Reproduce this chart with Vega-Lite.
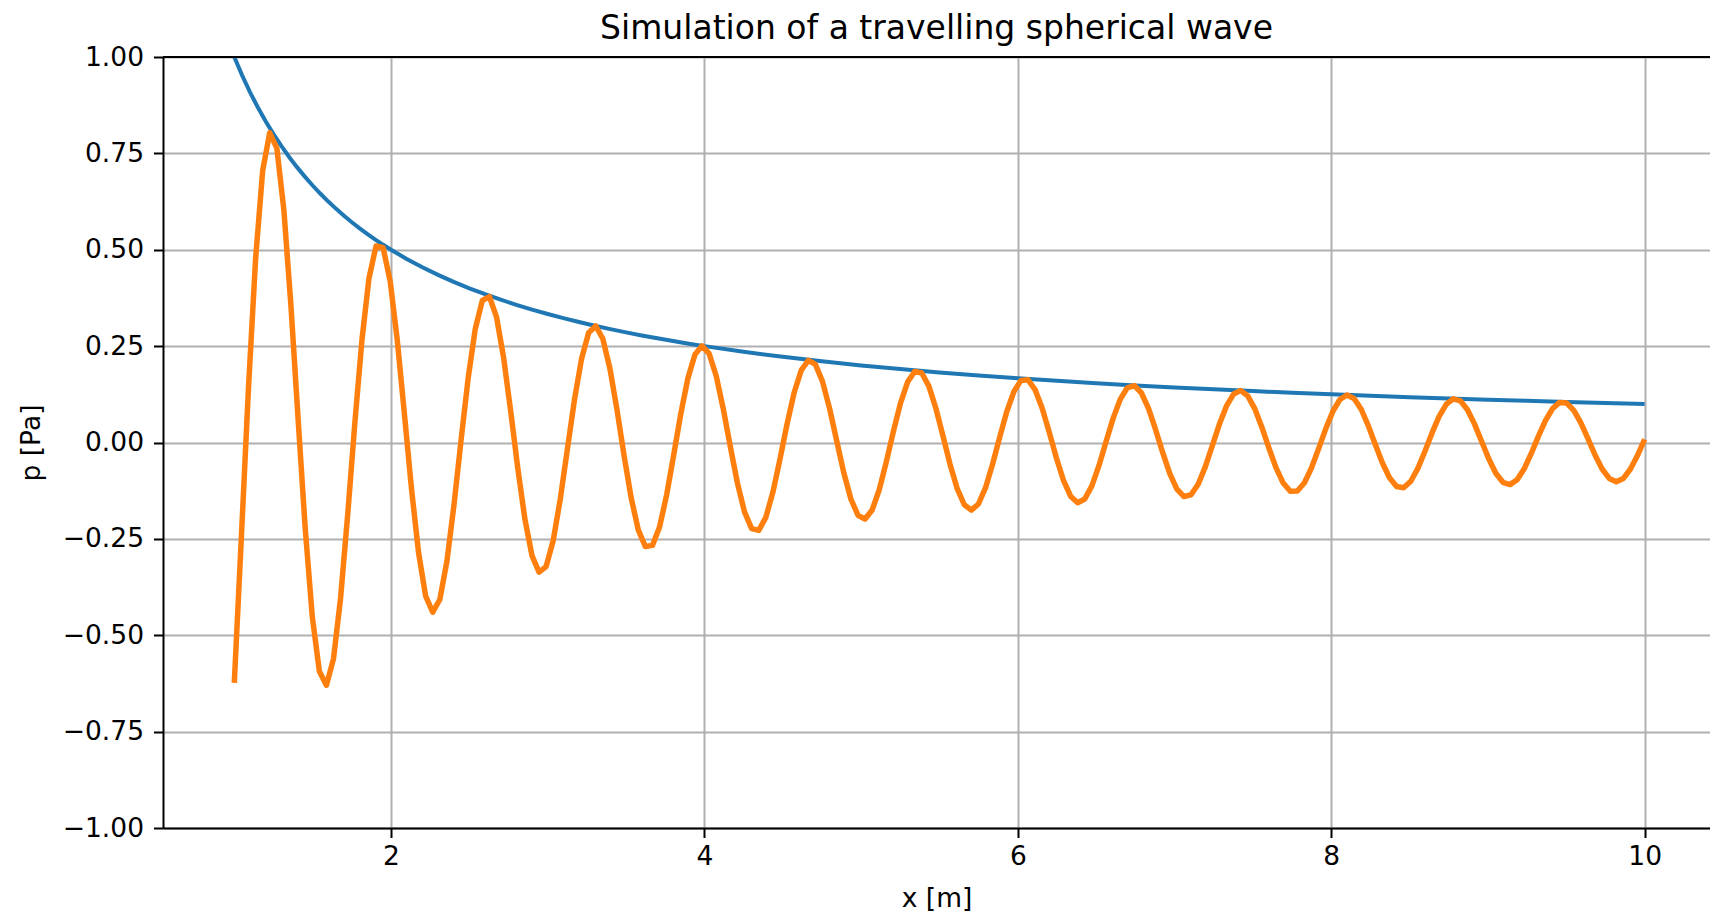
{
  "$schema": "https://vega.github.io/schema/vega-lite/v6.json",
  "autosize": {"type": "none"},
  "padding": {"left": 163, "top": 57, "right": 0, "bottom": 84},
  "width": 1547,
  "height": 771,
  "background": "white",
  "title": {"text": "Simulation of a travelling spherical wave", "font": "DejaVu Sans", "fontSize": 33, "fontWeight": "normal", "color": "#000000", "anchor": "middle", "baseline": "alphabetic", "offset": 16, "dy": 44},
  "config": {
    "view": {"stroke": null},
    "font": "DejaVu Sans",
    "axis": {
      "grid": true, "gridColor": "#b0b0b0", "gridWidth": 2,
      "domainColor": "#000000", "domainWidth": 2,
      "tickColor": "#000000", "tickWidth": 2, "tickSize": 9.5,
      "labelFont": "DejaVu Sans", "labelFontSize": 26.5, "labelColor": "#000000", "labelFlush": false, "labelOverlap": false,
      "titleFont": "DejaVu Sans", "titleFontSize": 26.5, "titleFontWeight": "normal", "titleColor": "#000000", "titleBaseline": "alphabetic"
    }
  },
  "datasets": {
    "env": [
      {"x": 1.0, "y": 1.0}, {"x": 1.05, "y": 0.95238}, {"x": 1.1, "y": 0.90909}, {"x": 1.15, "y": 0.86957}, {"x": 1.2, "y": 0.83333},
      {"x": 1.25, "y": 0.8}, {"x": 1.3, "y": 0.76923}, {"x": 1.35, "y": 0.74074}, {"x": 1.4, "y": 0.71429}, {"x": 1.45, "y": 0.68966},
      {"x": 1.5, "y": 0.66667}, {"x": 1.55, "y": 0.64516}, {"x": 1.6, "y": 0.625}, {"x": 1.65, "y": 0.60606}, {"x": 1.7, "y": 0.58824},
      {"x": 1.75, "y": 0.57143}, {"x": 1.8, "y": 0.55556}, {"x": 1.85, "y": 0.54054}, {"x": 1.9, "y": 0.52632}, {"x": 1.95, "y": 0.51282},
      {"x": 2.0, "y": 0.5}, {"x": 2.1, "y": 0.47619}, {"x": 2.2, "y": 0.45455}, {"x": 2.3, "y": 0.43478}, {"x": 2.4, "y": 0.41667},
      {"x": 2.5, "y": 0.4}, {"x": 2.6, "y": 0.38462}, {"x": 2.7, "y": 0.37037}, {"x": 2.8, "y": 0.35714}, {"x": 2.9, "y": 0.34483},
      {"x": 3.0, "y": 0.33333}, {"x": 3.1, "y": 0.32258}, {"x": 3.2, "y": 0.3125}, {"x": 3.3, "y": 0.30303}, {"x": 3.4, "y": 0.29412},
      {"x": 3.5, "y": 0.28571}, {"x": 3.6, "y": 0.27778}, {"x": 3.7, "y": 0.27027}, {"x": 3.8, "y": 0.26316}, {"x": 3.9, "y": 0.25641},
      {"x": 4.0, "y": 0.25}, {"x": 4.25, "y": 0.23529}, {"x": 4.5, "y": 0.22222}, {"x": 4.75, "y": 0.21053}, {"x": 5.0, "y": 0.2},
      {"x": 5.25, "y": 0.19048}, {"x": 5.5, "y": 0.18182}, {"x": 5.75, "y": 0.17391}, {"x": 6.0, "y": 0.16667}, {"x": 6.25, "y": 0.16},
      {"x": 6.5, "y": 0.15385}, {"x": 6.75, "y": 0.14815}, {"x": 7.0, "y": 0.14286}, {"x": 7.25, "y": 0.13793}, {"x": 7.5, "y": 0.13333},
      {"x": 7.75, "y": 0.12903}, {"x": 8.0, "y": 0.125}, {"x": 8.25, "y": 0.12121}, {"x": 8.5, "y": 0.11765}, {"x": 8.75, "y": 0.11429},
      {"x": 9.0, "y": 0.11111}, {"x": 9.25, "y": 0.10811}, {"x": 9.5, "y": 0.10526}, {"x": 9.75, "y": 0.10256}, {"x": 10.0, "y": 0.1}
    ],
    "wave": [
      {"x": 1.0000, "p": -0.6235}, {"x": 1.0452, "p": -0.2449}, {"x": 1.0905, "p": 0.1419}, {"x": 1.1357, "p": 0.4750}, {"x": 1.1809, "p": 0.7051},
      {"x": 1.2261, "p": 0.8034}, {"x": 1.2714, "p": 0.7637}, {"x": 1.3166, "p": 0.6019}, {"x": 1.3618, "p": 0.3526}, {"x": 1.4070, "p": 0.0615},
      {"x": 1.4523, "p": -0.2215}, {"x": 1.4975, "p": -0.4511}, {"x": 1.5427, "p": -0.5932}, {"x": 1.5879, "p": -0.6297}, {"x": 1.6332, "p": -0.5606},
      {"x": 1.6784, "p": -0.4030}, {"x": 1.7236, "p": -0.1873}, {"x": 1.7688, "p": 0.0483}, {"x": 1.8141, "p": 0.2642}, {"x": 1.8593, "p": 0.4259},
      {"x": 1.9045, "p": 0.5097}, {"x": 1.9497, "p": 0.5053}, {"x": 1.9950, "p": 0.4176}, {"x": 2.0402, "p": 0.2648}, {"x": 2.0854, "p": 0.0747},
      {"x": 2.1307, "p": -0.1197}, {"x": 2.1759, "p": -0.2861}, {"x": 2.2211, "p": -0.3984}, {"x": 2.2663, "p": -0.4401}, {"x": 2.3116, "p": -0.4073},
      {"x": 2.3568, "p": -0.3081}, {"x": 2.4020, "p": -0.1615}, {"x": 2.4472, "p": 0.0065}, {"x": 2.4925, "p": 0.1673}, {"x": 2.5377, "p": 0.2945},
      {"x": 2.5829, "p": 0.3685}, {"x": 2.6281, "p": 0.3785}, {"x": 2.6734, "p": 0.3253}, {"x": 2.7186, "p": 0.2199}, {"x": 2.7638, "p": 0.0811},
      {"x": 2.8090, "p": -0.0666}, {"x": 2.8543, "p": -0.1985}, {"x": 2.8995, "p": -0.2933}, {"x": 2.9447, "p": -0.3363}, {"x": 2.9899, "p": -0.3219},
      {"x": 3.0352, "p": -0.2544}, {"x": 3.0804, "p": -0.1464}, {"x": 3.1256, "p": -0.0172}, {"x": 3.1709, "p": 0.1112}, {"x": 3.2161, "p": 0.2175},
      {"x": 3.2613, "p": 0.2845}, {"x": 3.3065, "p": 0.3023}, {"x": 3.3518, "p": 0.2691}, {"x": 3.3970, "p": 0.1919}, {"x": 3.4422, "p": 0.0847},
      {"x": 3.4874, "p": -0.0339}, {"x": 3.5327, "p": -0.1438}, {"x": 3.5779, "p": -0.2268}, {"x": 3.6231, "p": -0.2700}, {"x": 3.6683, "p": -0.2669},
      {"x": 3.7136, "p": -0.2193}, {"x": 3.7588, "p": -0.1362}, {"x": 3.8040, "p": -0.0324}, {"x": 3.8492, "p": 0.0745}, {"x": 3.8945, "p": 0.1664},
      {"x": 3.9397, "p": 0.2284}, {"x": 3.9849, "p": 0.2508}, {"x": 4.0302, "p": 0.2307}, {"x": 4.0754, "p": 0.1725}, {"x": 4.1206, "p": 0.0867},
      {"x": 4.1658, "p": -0.0117}, {"x": 4.2111, "p": -0.1061}, {"x": 4.2563, "p": -0.1807}, {"x": 4.3015, "p": -0.2235}, {"x": 4.3467, "p": -0.2280},
      {"x": 4.3920, "p": -0.1942}, {"x": 4.4372, "p": -0.1286}, {"x": 4.4824, "p": -0.0428}, {"x": 4.5276, "p": 0.0484}, {"x": 4.5729, "p": 0.1298},
      {"x": 4.6181, "p": 0.1878}, {"x": 4.6633, "p": 0.2132}, {"x": 4.7085, "p": 0.2024}, {"x": 4.7538, "p": 0.1579}, {"x": 4.7990, "p": 0.0878},
      {"x": 4.8442, "p": 0.0043}, {"x": 4.8894, "p": -0.0784}, {"x": 4.9347, "p": -0.1465}, {"x": 4.9799, "p": -0.1887}, {"x": 5.0251, "p": -0.1986},
      {"x": 5.0704, "p": -0.1750}, {"x": 5.1156, "p": -0.1225}, {"x": 5.1608, "p": -0.0503}, {"x": 5.2060, "p": 0.0290}, {"x": 5.2513, "p": 0.1021},
      {"x": 5.2965, "p": 0.1568}, {"x": 5.3417, "p": 0.1843}, {"x": 5.3869, "p": 0.1804}, {"x": 5.4322, "p": 0.1463}, {"x": 5.4774, "p": 0.0883},
      {"x": 5.5226, "p": 0.0164}, {"x": 5.5678, "p": -0.0571}, {"x": 5.6131, "p": -0.1198}, {"x": 5.6583, "p": -0.1615}, {"x": 5.7035, "p": -0.1753},
      {"x": 5.7487, "p": -0.1595}, {"x": 5.7940, "p": -0.1172}, {"x": 5.8392, "p": -0.0559}, {"x": 5.8844, "p": 0.0139}, {"x": 5.9296, "p": 0.0803},
      {"x": 5.9749, "p": 0.1321}, {"x": 6.0201, "p": 0.1611}, {"x": 6.0653, "p": 0.1626}, {"x": 6.1106, "p": 0.1367}, {"x": 6.1558, "p": 0.0883},
      {"x": 6.2010, "p": 0.0257}, {"x": 6.2462, "p": -0.0402}, {"x": 6.2915, "p": -0.0985}, {"x": 6.3367, "p": -0.1394}, {"x": 6.3819, "p": -0.1563},
      {"x": 6.4271, "p": -0.1467}, {"x": 6.4724, "p": -0.1126}, {"x": 6.5176, "p": -0.0601}, {"x": 6.5628, "p": 0.0018}, {"x": 6.6080, "p": 0.0626},
      {"x": 6.6533, "p": 0.1119}, {"x": 6.6985, "p": 0.1419}, {"x": 6.7437, "p": 0.1476}, {"x": 6.7889, "p": 0.1284}, {"x": 6.8342, "p": 0.0879},
      {"x": 6.8794, "p": 0.0331}, {"x": 6.9246, "p": -0.0265}, {"x": 6.9698, "p": -0.0808}, {"x": 7.0151, "p": -0.1209}, {"x": 7.0603, "p": -0.1402},
      {"x": 7.1055, "p": -0.1356}, {"x": 7.1508, "p": -0.1083}, {"x": 7.1960, "p": -0.0632}, {"x": 7.2412, "p": -0.0080}, {"x": 7.2864, "p": 0.0479},
      {"x": 7.3317, "p": 0.0950}, {"x": 7.3769, "p": 0.1256}, {"x": 7.4221, "p": 0.1347}, {"x": 7.4673, "p": 0.1210}, {"x": 7.5126, "p": 0.0872},
      {"x": 7.5578, "p": 0.0391}, {"x": 7.6030, "p": -0.0150}, {"x": 7.6482, "p": -0.0660}, {"x": 7.6935, "p": -0.1052}, {"x": 7.7387, "p": -0.1263},
      {"x": 7.7839, "p": -0.1259}, {"x": 7.8291, "p": -0.1043}, {"x": 7.8744, "p": -0.0655}, {"x": 7.9196, "p": -0.0160}, {"x": 7.9648, "p": 0.0355},
      {"x": 8.0101, "p": 0.0805}, {"x": 8.0553, "p": 0.1115}, {"x": 8.1005, "p": 0.1233}, {"x": 8.1457, "p": 0.1143}, {"x": 8.1910, "p": 0.0862},
      {"x": 8.2362, "p": 0.0438}, {"x": 8.2814, "p": -0.0054}, {"x": 8.3266, "p": -0.0532}, {"x": 8.3719, "p": -0.0916}, {"x": 8.4171, "p": -0.1141},
      {"x": 8.4623, "p": -0.1172}, {"x": 8.5075, "p": -0.1005}, {"x": 8.5528, "p": -0.0671}, {"x": 8.5980, "p": -0.0228}, {"x": 8.6432, "p": 0.0249},
      {"x": 8.6884, "p": 0.0679}, {"x": 8.7337, "p": 0.0991}, {"x": 8.7789, "p": 0.1132}, {"x": 8.8241, "p": 0.1082}, {"x": 8.8693, "p": 0.0849},
      {"x": 8.9146, "p": 0.0477}, {"x": 8.9598, "p": 0.0028}, {"x": 9.0050, "p": -0.0422}, {"x": 9.0503, "p": -0.0796}, {"x": 9.0955, "p": -0.1032},
      {"x": 9.1407, "p": -0.1092}, {"x": 9.1859, "p": -0.0968}, {"x": 9.2312, "p": -0.0682}, {"x": 9.2764, "p": -0.0284}, {"x": 9.3216, "p": 0.0158},
      {"x": 9.3668, "p": 0.0569}, {"x": 9.4121, "p": 0.0880}, {"x": 9.4573, "p": 0.1040}, {"x": 9.5025, "p": 0.1024}, {"x": 9.5477, "p": 0.0835},
      {"x": 9.5930, "p": 0.0508}, {"x": 9.6382, "p": 0.0098}, {"x": 9.6834, "p": -0.0325}, {"x": 9.7286, "p": -0.0688}, {"x": 9.7739, "p": -0.0933},
      {"x": 9.8191, "p": -0.1018}, {"x": 9.8643, "p": -0.0931}, {"x": 9.9095, "p": -0.0688}, {"x": 9.9548, "p": -0.0332}, {"x": 10.0000, "p": 0.0078}
    ]
  },
  "layer": [
    {
      "data": {"name": "env"},
      "mark": {"type": "line", "color": "#1f77b4", "strokeWidth": 4, "strokeCap": "butt"},
      "encoding": {
        "x": {"field": "x", "type": "quantitative", "scale": {"domain": [0.545, 10.417], "nice": false, "zero": false},
              "axis": {"values": [2, 4, 6, 8, 10], "format": "d", "title": "x [m]", "titleY": 78, "labelPadding": 6}},
        "y": {"field": "y", "type": "quantitative", "scale": {"domain": [-1, 1], "nice": false, "zero": false},
              "axis": {"values": [-1, -0.75, -0.5, -0.25, 0, 0.25, 0.5, 0.75, 1], "labelExpr": "replace(format(datum.value, '.2f'), '-', '\u2212')", "title": "p [Pa]", "titleX": -124, "titleY": 385.5, "titleAngle": -90, "titleAlign": "center", "labelPadding": 10}}
      }
    },
    {
      "data": {"name": "wave"},
      "mark": {"type": "line", "color": "#ff7f0e", "strokeWidth": 5.5, "strokeJoin": "round"},
      "encoding": {
        "x": {"field": "x", "type": "quantitative"},
        "y": {"field": "p", "type": "quantitative"}
      }
    },
    {
      "data": {"values": [{"spine": "top"}]},
      "mark": {"type": "rule", "color": "#000000", "strokeWidth": 2},
      "encoding": {"y": {"datum": 1, "type": "quantitative"}}
    }
  ]
}
